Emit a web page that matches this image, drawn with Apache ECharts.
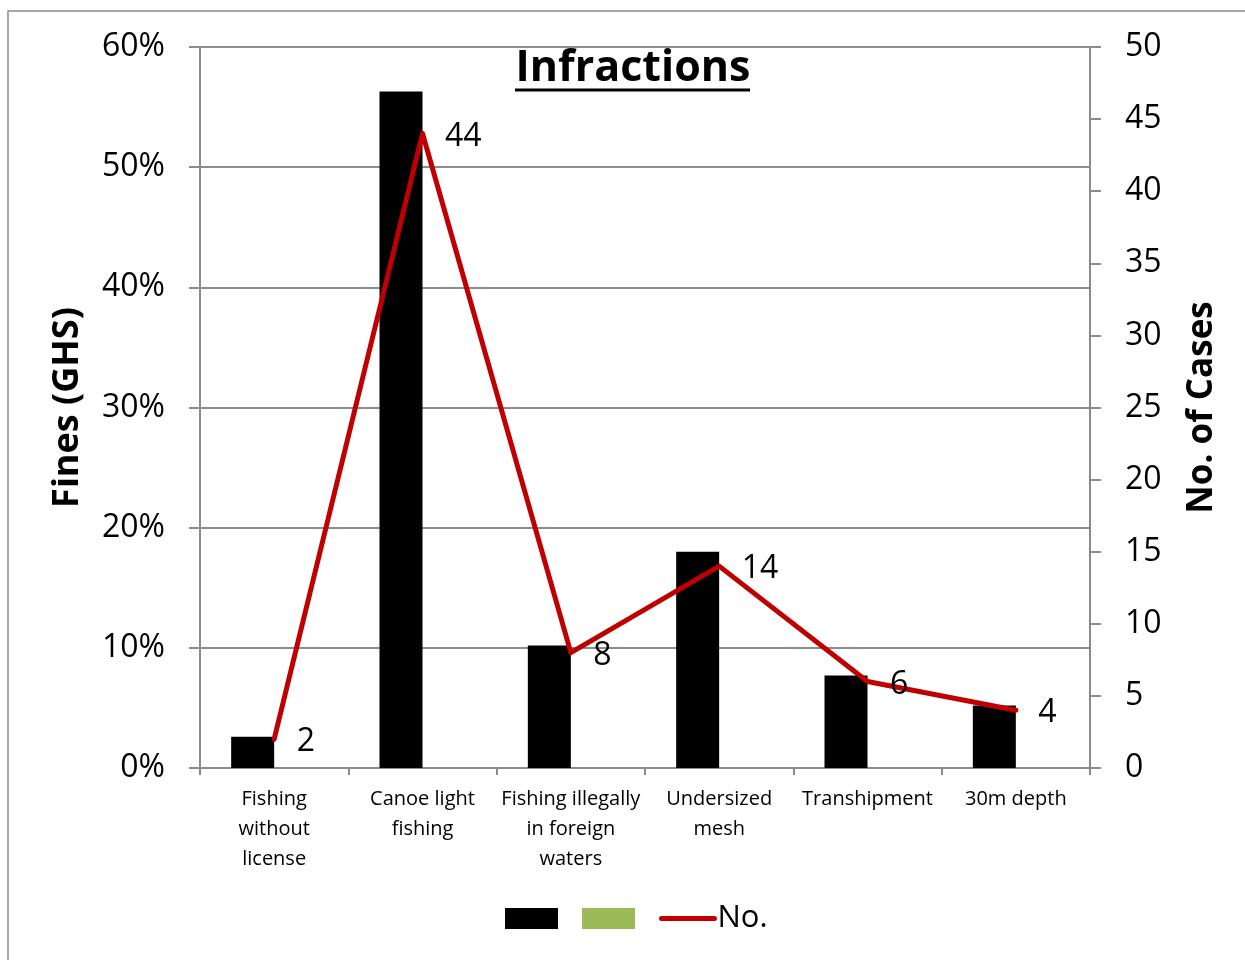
<!DOCTYPE html>
<html>
<head>
<meta charset="utf-8">
<script src="https://cdn.jsdelivr.net/npm/echarts@6/dist/echarts.min.js"></script>
<style>
html,body{margin:0;padding:0;background:#fff;}
#chart{width:1245px;height:960px;}
</style>
</head>
<body>
<div id="chart"></div>
<script>
const categories = ['Fishing\nwithout\nlicense', 'Canoe light\nfishing', 'Fishing illegally\nin foreign\nwaters', 'Undersized\nmesh', 'Transhipment', '30m depth'];
const finesPct = [2.6, 56.3, 10.2, 18.0, 7.7, 5.2];
const secondSeries = [0, 0, 0, 0, 0, 0];
const casesNo = [2, 44, 8, 14, 6, 4];

const FONT = '"Open Sans", "Noto Sans", sans-serif';
const GRAY = '#8c8c8c';

const chart = echarts.init(document.getElementById('chart'));
chart.setOption({
  backgroundColor: '#fff',
  animation: false,
  textStyle: { fontFamily: FONT, color: '#000' },
  title: {
    text: 'Infractions',
    left: 628, top: 42,
    textAlign: 'center',
    textStyle: { fontFamily: FONT, fontSize: 43, fontWeight: 'bold', color: '#000' }
  },
  graphic: [
    { type: 'rect', shape: { x: 8, y: 11, width: 1300, height: 1000 }, style: { fill: 'none', stroke: GRAY, lineWidth: 1.5 }, silent: true, z: -10 },
    { type: 'line', shape: { x1: 515, y1: 90, x2: 750, y2: 90 }, style: { stroke: '#000', lineWidth: 3 }, silent: true }
  ],
  legend: {
    left: 500, top: 898,
    itemWidth: 53, itemHeight: 21, itemGap: 24,
    formatter: n => (n === 'No.' ? n : ''),
    textStyle: { fontFamily: FONT, fontSize: 31, color: '#000', padding: [0, 0, 0, -2] },
    data: [
      { name: 'Fines', icon: 'rect' },
      { name: 'Fines2', icon: 'rect' },
      { name: 'No.', itemStyle: { opacity: 0 }, lineStyle: { width: 5, color: '#c00000', cap: 'round' } }
    ]
  },
  grid: { left: 200, right: 155, top: 47, bottom: 192 },
  xAxis: {
    type: 'category',
    data: categories,
    boundaryGap: true,
    axisLine: { lineStyle: { color: GRAY, width: 2 } },
    axisTick: { show: true, length: 7, lineStyle: { color: GRAY, width: 2 } },
    axisLabel: { fontFamily: FONT, fontSize: 20, color: '#000', lineHeight: 30, margin: 16, interval: 0 }
  },
  yAxis: [
    {
      type: 'value', min: 0, max: 60, interval: 10,
      name: 'Fines (GHS)', nameLocation: 'middle', nameRotate: 90, nameGap: 114,
      nameTextStyle: { fontFamily: FONT, fontSize: 36, fontWeight: 'bold', color: '#000' },
      axisLine: { show: true, lineStyle: { color: GRAY, width: 2 } },
      axisTick: { show: true, inside: false, length: 11, lineStyle: { color: GRAY, width: 2 } },
      axisLabel: { formatter: '{value}%', fontFamily: FONT, fontSize: 32, color: '#000', margin: 35 },
      splitLine: { show: true, lineStyle: { color: GRAY, width: 2 } }
    },
    {
      type: 'value', min: 0, max: 50, interval: 5, position: 'right',
      name: 'No. of Cases', nameLocation: 'middle', nameRotate: 90, nameGap: 95,
      nameTextStyle: { fontFamily: FONT, fontSize: 35, fontWeight: 'bold', color: '#000' },
      axisLine: { show: true, lineStyle: { color: GRAY, width: 2 } },
      axisTick: { show: true, inside: false, length: 11, lineStyle: { color: GRAY, width: 2 } },
      axisLabel: { fontFamily: FONT, fontSize: 32, color: '#000', margin: 35 },
      splitLine: { show: false }
    }
  ],
  series: [
    {
      name: 'Fines', type: 'bar', yAxisIndex: 0, data: finesPct,
      barWidth: 43, barGap: '0%',
      itemStyle: { color: '#000' }
    },
    {
      name: 'Fines2', type: 'bar', yAxisIndex: 0, data: secondSeries,
      barWidth: 43,
      itemStyle: { color: '#9bbb59' }
    },
    {
      name: 'No.', type: 'line', yAxisIndex: 1, data: casesNo,
      symbol: 'circle', symbolSize: 1, z: 5,
      lineStyle: { color: '#c00000', width: 5, cap: 'round', join: 'round' },
      itemStyle: { color: '#c00000' },
      label: { show: true, position: 'right', distance: 22, offset: [0, 3], fontFamily: FONT, fontSize: 32, color: '#000' }
    }
  ]
});
</script>
</body>
</html>
